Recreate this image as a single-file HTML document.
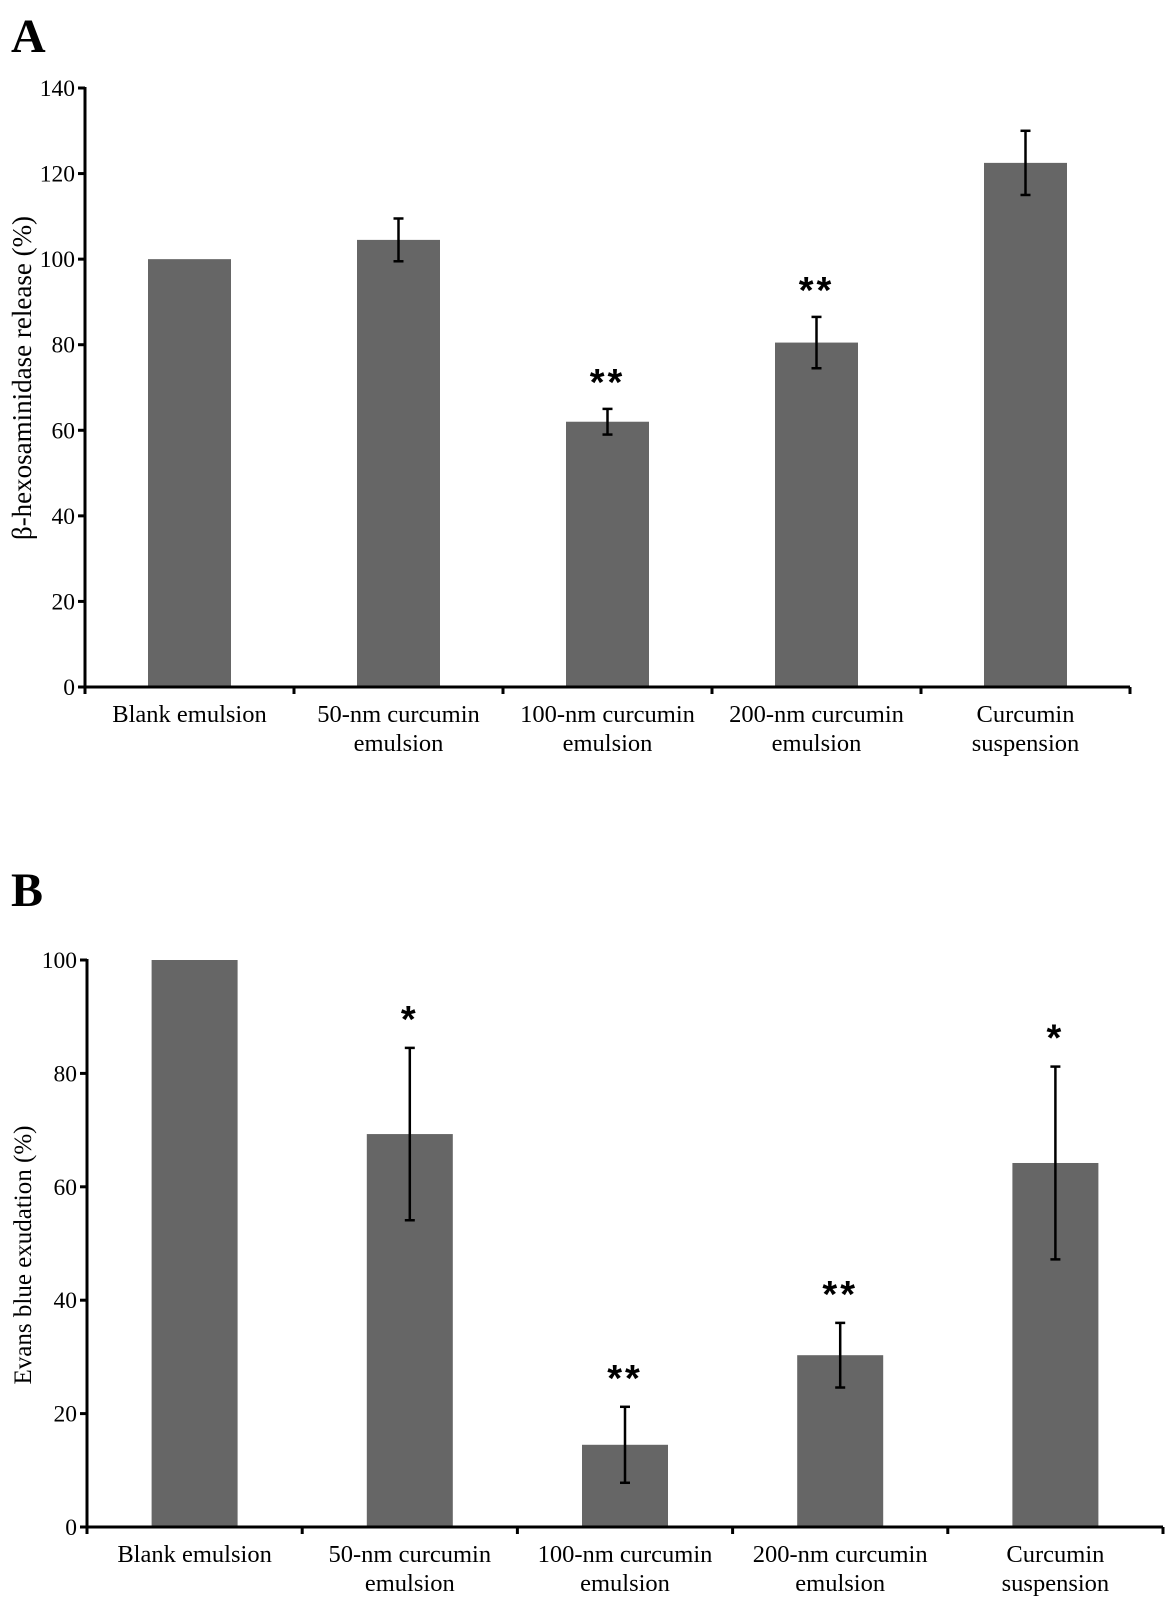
<!DOCTYPE html>
<html><head><meta charset="utf-8">
<style>
html,body{margin:0;padding:0;background:#fff;}
svg{display:block;font-family:"Liberation Serif",serif;}
</style></head>
<body>
<svg id="fig" width="1176" height="1616" viewBox="0 0 1176 1616" xmlns="http://www.w3.org/2000/svg">
<text x="11" y="52" font-size="48" font-weight="bold">A</text>
<text x="11" y="906" font-size="48" font-weight="bold">B</text>
<g id="chartA"></g>
<g id="chartB"></g>
</svg>
<script>
const categories = [["Blank emulsion"],["50-nm  curcumin","emulsion"],["100-nm  curcumin","emulsion"],["200-nm curcumin","emulsion"],["Curcumin","suspension"]];
const valuesA = [100, 104.5, 62, 80.5, 122.5];
const errorsA = [0, 5, 3, 6, 7.5];
const starsA = ["", "", "**", "**", ""];
const ticksA = [0, 20, 40, 60, 80, 100, 120, 140];
const valuesB = [100, 69.3, 14.5, 30.3, 64.2];
const errorsB = [0, 15.2, 6.7, 5.7, 17];
const starsB = ["", "*", "**", "**", "*"];
const ticksB = [0, 20, 40, 60, 80, 100];

const NS = "http://www.w3.org/2000/svg";
function mk(parent, tag, attrs){const e=document.createElementNS(NS,tag);for(const k in attrs)e.setAttribute(k,attrs[k]);parent.appendChild(e);return e;}

function draw(g, cfg){
  const {x0,y0,ymaxPx,ymax,catW,barW,values,errors,stars,ticks,title,titleY,titleSize,prefix,labelY,starOff} = cfg;
  const y = v => y0 - (y0 - ymaxPx) * v / ymax;
  const xc = i => x0 + catW*(i+0.5);
  const n = values.length;
  values.forEach((v,i)=>{
    const r = mk(g,'rect',{x:xc(i)-barW/2,y:y(v),width:barW,height:y0-y(v),fill:'#666666'});
    
    
    if(errors[i]>0){
      const eg = mk(g,'g',{stroke:'#000','stroke-width':2.5});
      
      
      mk(eg,'line',{x1:xc(i),x2:xc(i),y1:y(v+errors[i]),y2:y(v-errors[i])});
      mk(eg,'line',{x1:xc(i)-5,x2:xc(i)+5,y1:y(v+errors[i]),y2:y(v+errors[i])});
      mk(eg,'line',{x1:xc(i)-5,x2:xc(i)+5,y1:y(v-errors[i]),y2:y(v-errors[i])});
    }
    if(stars[i]){
      const t = mk(g,'text',{x:xc(i),y:y(v+errors[i])-starOff,'text-anchor':'middle','font-size':38,'font-weight':'bold','font-family':'Liberation Sans, sans-serif','letter-spacing':'3'});
      t.textContent = stars[i];
      
      
    }
    const lt = mk(g,'text',{x:xc(i),y:labelY,'text-anchor':'middle','font-size':24.5});
    
    
    categories[i].forEach((s,j)=>{const ts=mk(lt,'tspan',{x:xc(i),dy:j?29:0});ts.textContent=s;});
  });
  const ax = mk(g,'g',{stroke:'#000','stroke-width':3,fill:'none'});
  
  
  mk(ax,'line',{x1:x0,x2:x0,y1:ymaxPx-1,y2:y0+1});
  mk(ax,'line',{x1:x0,x2:x0+catW*n,y1:y0,y2:y0});
  for(let i=0;i<=n;i++) mk(ax,'line',{x1:x0+catW*i,x2:x0+catW*i,y1:y0,y2:y0+7});
  ticks.forEach(t=>{
    mk(ax,'line',{x1:x0-7,x2:x0,y1:y(t),y2:y(t)});
    const tl = mk(g,'text',{x:x0-10,y:y(t)+8,'text-anchor':'end','font-size':23.5});
    tl.textContent = t;
    
    
  });
  const tt = mk(g,'text',{x:0,y:0,'text-anchor':'middle','font-size':titleSize,transform:`translate(31,${titleY}) rotate(-90)`});
  tt.textContent = title;
  
  
}
draw(document.getElementById('chartA'),{x0:85,y0:687,ymaxPx:88,ymax:140,catW:209,barW:83,values:valuesA,errors:errorsA,stars:starsA,ticks:ticksA,title:"β-hexosaminidase release (%)",titleY:378,titleSize:27,prefix:'a',labelY:722,starOff:14});
draw(document.getElementById('chartB'),{x0:87,y0:1527,ymaxPx:960,ymax:100,catW:215.2,barW:86,values:valuesB,errors:errorsB,stars:starsB,ticks:ticksB,title:"Evans blue exudation (%)",titleY:1255,titleSize:25,prefix:'b',labelY:1562,starOff:16});
</script>
</body></html>
